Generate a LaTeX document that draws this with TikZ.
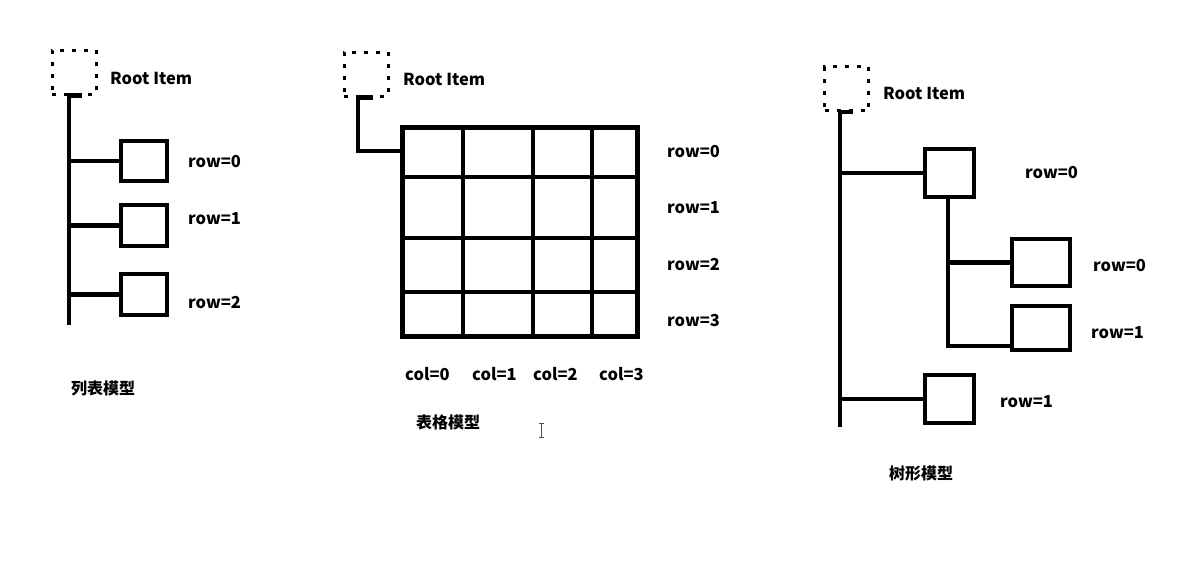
\documentclass[tikz,border=0pt]{standalone}
\usepackage{fontspec}
\setmainfont{Noto Sans CJK SC}
\begin{document}
\begin{tikzpicture}[x=1pt,y=-1pt,
  box/.style={draw,line width=4.5pt,minimum width=#1,inner sep=0pt},
  root/.style={draw,line width=3pt,dash pattern=on 4pt off 8pt,minimum width=44pt,minimum height=44pt,inner sep=0pt},
  wire/.style={line width=4.5pt},
  lbl/.style={anchor=west,inner sep=0pt,font=\fontsize{16.5}{18}\selectfont\bfseries},
  title/.style={anchor=west,inner sep=0pt,font=\fontsize{16}{18}\selectfont\bfseries}]
\useasboundingbox[fill=white] (0,0) rectangle (1186,562);

% ---------- list model ----------
\node[root] (r1) at (74,72) {};
\node[lbl] (r1t) at (110,78) {Root Item};
\coordinate (lb) at (69,325);
\node[box=46pt,minimum height=40pt] (l0) at (144,161) {};
\node[box=46pt,minimum height=41pt] (l1) at (144,225.5) {};
\node[box=46pt,minimum height=41pt] (l2) at (144,294.5) {};
\draw[wire] ([xshift=8pt]r1.south) -| (lb);
\draw[wire] (l0.west) -- (l0.west -| lb);
\draw[wire] (l1.west) -- (l1.west -| lb);
\draw[wire] (l2.west) -- (l2.west -| lb);
\node[lbl] (lr0) at (188,162) {row=0};
\node[lbl] (lr1) at (188,219) {row=1};
\node[lbl] (lr2) at (188,303) {row=2};
\node[title] (lt) at (71,388) {列表模型};

% ---------- table model ----------
\node[root] (r2) at (366,74) {};
\node[lbl] (r2t) at (403,79) {Root Item};
\node[draw,line width=5pt,minimum width=235pt,minimum height=209pt,inner sep=0pt] (grid) at (520,232) {};
\coordinate (tk) at (358,151);
\draw[wire] ([xshift=7pt]r2.south) -| (tk) -- (tk -| grid.west);
\coordinate (c1) at (463,0);
\coordinate (c2) at (533,0);
\coordinate (c3) at (592,0);
\coordinate (w1) at (0,177);
\coordinate (w2) at (0,238);
\coordinate (w3) at (0,292);
\foreach \c in {c1,c2,c3}{\draw[wire] (\c |- grid.north) -- (\c |- grid.south);}
\foreach \w in {w1,w2,w3}{\draw[wire] (\w -| grid.west) -- (\w -| grid.east);}
\node[lbl] (tr0) at (667,152) {row=0};
\node[lbl] (tr1) at (667,208) {row=1};
\node[lbl] (tr2) at (667,265) {row=2};
\node[lbl] (tr3) at (667,321) {row=3};
\node[lbl] (tc0) at (405,374) {col=0};
\node[lbl] (tc1) at (472,374) {col=1};
\node[lbl] (tc2) at (533,374) {col=2};
\node[lbl] (tc3) at (599,374) {col=3};
\node[title] (tt) at (416,422) {表格模型};
% text cursor
\draw[line width=0.8pt,black!70] (541,423) -- (541,437) (538.5,423) -- (543.5,423) (538.5,437) -- (543.5,437);

% ---------- tree model ----------
\node[root] (r3) at (846.5,88.5) {};
\node[lbl] (r3t) at (883,93) {Root Item};
\coordinate (tb) at (840,427);
\node[box=49pt,minimum height=48pt] (ta) at (949.5,173) {};
\node[box=58pt,minimum height=47pt] (tbx) at (1041,262.5) {};
\node[box=58pt,minimum height=44pt] (tcx) at (1041,328) {};
\node[box=49pt,minimum height=48pt] (td) at (949.5,399) {};
\draw[wire] ([xshift=6pt]r3.south) -| (tb);
\draw[wire] (ta.west) -- (ta.west -| tb);
\draw[wire] (td.west) -- (td.west -| tb);
\coordinate (sb) at (948,346);
\draw[wire] (ta.south -| sb) -- (sb) -- ([xshift=4pt]sb -| tcx.west);
\draw[wire] (tbx.west) -- (tbx.west -| sb);
\node[lbl] (q0) at (1025,173) {row=0};
\node[lbl] (q1) at (1093,266) {row=0};
\node[lbl] (q2) at (1091,333) {row=1};
\node[lbl] (q3) at (1000,402) {row=1};
\node[title] (qt) at (889,473) {树形模型};
\end{tikzpicture}
\end{document}
